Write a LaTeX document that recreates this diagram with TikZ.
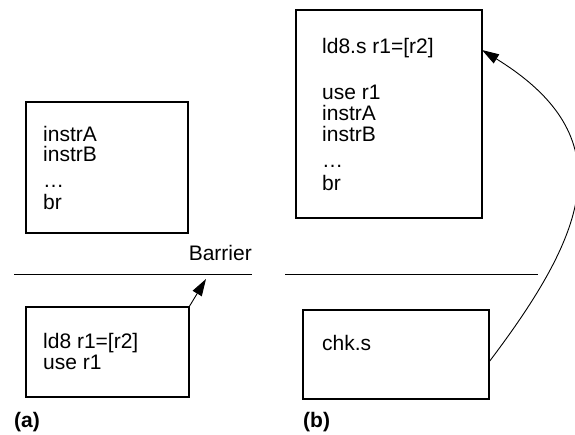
\documentclass[tikz,border=0pt]{standalone}
\usepackage{fontspec}
\setmainfont{Liberation Sans}
\usetikzlibrary{arrows.meta}
\begin{document}
\begin{tikzpicture}[x=1pt,y=-1pt,
  box/.style={draw, line width=1.1pt, rectangle, anchor=north west, inner sep=0pt, outer sep=0pt},
  txt/.style={anchor=base west, inner sep=0pt, font=\fontsize{21}{20}\selectfont},
  lbl/.style={anchor=base west, inner sep=0pt, font=\fontsize{21}{20}\selectfont\bfseries},
  sep/.style={line width=0.9pt},
  arr/.style={line width=0.9pt, -{Triangle[length=17pt,width=10.5pt]}}]
\useasboundingbox (0,0) rectangle (575,435);
% boxes
\node[box, minimum width=162pt, minimum height=131pt] (a1) at (26,102) {};
\node[box, minimum width=163pt, minimum height=90pt] (a2) at (26,307) {};
\node[box, minimum width=186pt, minimum height=208pt] (b1) at (296,10) {};
\node[box, minimum width=186pt, minimum height=89pt] (b2) at (303,310) {};
% texts (a)
\node[txt] (a1t1) at (43,142) {instrA};
\node[txt] (a1t2) at (43,162) {instrB};
\node[txt] (a1t3) at (43,188) {…};
\node[txt] (a1t4) at (43,210) {br};
\node[txt] (a2t1) at (43,348) {ld8 r1=[r2]};
\node[txt] (a2t2) at (43,369) {use r1};
% texts (b)
\node[txt] (b1t1) at (322,54) {ld8.s r1=[r2]};
\node[txt] (b1t2) at (322,100) {use r1};
\node[txt] (b1t3) at (322,121) {instrA};
\node[txt] (b1t4) at (322,142) {instrB};
\node[txt] (b1t5) at (322,168) {…};
\node[txt] (b1t6) at (322,191) {br};
\node[txt] (b2t1) at (322,350) {chk.s};
% barrier
\coordinate (l1) at (14,274);
\coordinate (l2) at (252,274);
\coordinate (r1) at (285,274);
\coordinate (r2) at (538,274);
\draw[sep] (l1) -- (l2);
\draw[sep] (r1) -- (r2);
\node[anchor=base east, inner sep=0pt, font=\fontsize{21}{20}\selectfont] (barrier) at (252,261) {Barrier};
% labels
\node[lbl] (la) at (14,427) {(a)};
\node[lbl] (lb) at (303,427) {(b)};
% arrows
\coordinate (atip) at (206,279);
\draw[arr] (a2.north east) -- (atip);
\draw[arr] ([yshift=-7.5pt]b2.east) .. controls (589,230) and (623,137) .. ([yshift=-40pt]b1.north east);
\end{tikzpicture}
\end{document}
